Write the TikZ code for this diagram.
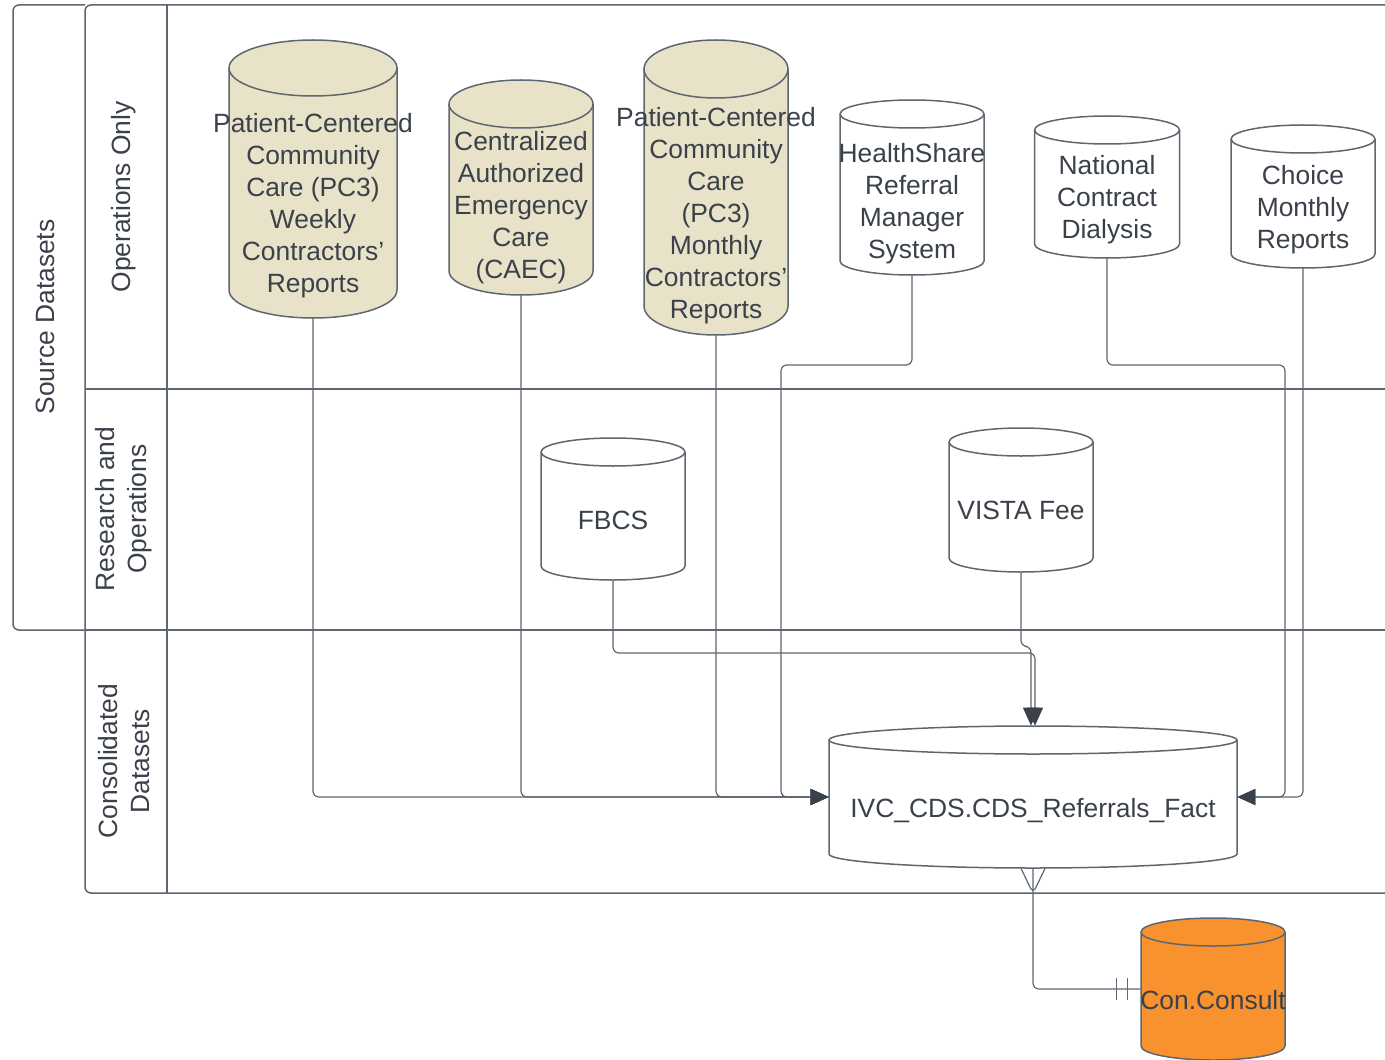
\documentclass[tikz,border=0pt]{standalone}
\usepackage{fontspec}
\setmainfont{Liberation Sans}
\usetikzlibrary{arrows.meta}

\definecolor{lanegray}{HTML}{5E6670}
\definecolor{txtgray}{HTML}{3A414A}
\definecolor{dbbeige}{HTML}{E8E2C8}
\definecolor{dborange}{HTML}{F8922E}

\tikzset{
    lane/.style={draw=lanegray, line width=0.75pt},
    cyl/.style={draw=lanegray, line width=0.75pt},
    link/.style={draw=lanegray, line width=0.6pt, rounded corners=3pt,
        -{Triangle[length=9pt,width=8pt,color=txtgray]}},
    plain/.style={draw=lanegray, line width=0.6pt, rounded corners=3pt},
    dbtext/.style={align=center, text=txtgray, inner sep=0pt,
        font=\fontsize{13.2}{16}\selectfont},
    lanetext/.style={dbtext, rotate=90}
}

% cylinder: name, centre x, top, width, bottom, cap radius, fill
\newcommand{\dbcyl}[7]{%
    \filldraw[cyl, fill=#7] (#2-#4/2, #3+#6) -- (#2-#4/2, #5-#6)
        arc[start angle=180, end angle=0, x radius=#4/2, y radius=#6]
        -- (#2+#4/2, #3+#6)
        arc[start angle=0, end angle=-180, x radius=#4/2, y radius=#6] -- cycle;
    \draw[cyl] (#2-#4/2, #3+#6)
        arc[start angle=180, end angle=0, x radius=#4/2, y radius=#6];
    \node[inner sep=0pt, minimum width=#4*0.5pt, minimum height=(#5-#3)*0.5pt]
        (#1) at (#2, {(#3+#5)/2}) {};
}

\begin{document}
\begin{tikzpicture}[x=0.5pt, y=-0.5pt]
            \useasboundingbox (0,0) rectangle (1385,1059);

            %Lanes
            \draw[lane, rounded corners=3pt] (85,630) -- (13,630) -- (13,5) -- (85,5);
            \draw[lane, rounded corners=3pt] (1385,893) -- (85,893) -- (85,5) -- (1385,5);
            \draw[lane] (167,5) -- (167,893);
            \draw[lane] (85,389) -- (1385,389);
            \draw[lane] (85,630) -- (1385,630);
            \node[lanetext] (srclbl) at (45,317) {Source Datasets};
            \node[lanetext] (opslbl) at (124,197) {Operations Only};
            \node[lanetext] (reslbl) at (124,509) {Research and\\Operations};
            \node[lanetext] (conslbl) at (124,761) {Consolidated\\Datasets};

            %Datasets
            \dbcyl{pcw}{313}{40}{168}{318}{28}{dbbeige}
            \dbcyl{caec}{521}{80}{144}{295}{24}{dbbeige}
            \dbcyl{pcm}{716}{40}{144}{335}{29}{dbbeige}
            \dbcyl{hs}{912}{100}{144}{275}{14}{white}
            \dbcyl{ncd}{1107}{116}{145}{258}{14}{white}
            \dbcyl{cmr}{1303}{125}{144}{268}{14}{white}
            \dbcyl{fbcs}{613}{438}{144}{580}{14}{white}
            \dbcyl{vista}{1021}{428}{144}{572}{14}{white}
            \dbcyl{ivc}{1033}{726}{408}{868}{14}{white}
            \dbcyl{con}{1213}{918}{144}{1060}{14}{dborange}

            \node[dbtext] (pcwlbl) at (313,206) {Patient-Centered\\Community\\Care (PC3)\\Weekly\\Contractors’\\Reports};
            \node[dbtext] (caeclbl) at (521,208) {Centralized\\Authorized\\Emergency\\Care\\(CAEC)};
            \node[dbtext] (pcmlbl) at (716,216) {Patient-Centered\\Community\\Care\\(PC3)\\Monthly\\Contractors’\\Reports};
            \node[dbtext] (hslbl) at (912,204) {HealthShare\\Referral\\Manager\\System};
            \node[dbtext] (ncdlbl) at (1107,200) {National\\Contract\\Dialysis};
            \node[dbtext] (cmrlbl) at (1303,210) {Choice\\Monthly\\Reports};
            \node[dbtext] (fbcslbl) at (613,520) {FBCS};
            \node[dbtext] (vistalbl) at (1021,510) {VISTA Fee};
            \node[dbtext] (ivclbl) at (1033,811) {IVC\_CDS.CDS\_Referrals\_Fact};
            \node[dbtext] (conlbl) at (1213,1000) {Con.Consult};

            %Lines
            \draw[link] (pcw.south) |- (ivc.west);
            \draw[link] (caec.south) |- (ivc.west);
            \draw[link] (pcm.south) |- (ivc.west);
            \draw[link] (hs.south) |- (781,365) |- (ivc.west);
            \draw[link] (ncd.south) |- (1285,365) |- (ivc.east);
            \draw[link] (cmr.south) |- (ivc.east);
            \draw[link] (fbcs.south) |- (1035,653) -- ([xshift=1pt]ivc.north);
            \draw[link] (vista.south) -- ++(0,74) -| ([xshift=-1pt]ivc.north);

            %Relation
            \draw[plain] (ivc.south) |- (con.west);
            \draw[plain] ([xshift=-6pt]ivc.south) -- ([yshift=-12.5pt]ivc.south) -- ([xshift=6pt]ivc.south);
            \draw[plain] ([xshift=-6pt,yshift=-12.5pt]ivc.south) -- ([xshift=6pt,yshift=-12.5pt]ivc.south);
            \draw[plain] ([xshift=-12pt,yshift=5.5pt]con.west) -- ([xshift=-12pt,yshift=-5.5pt]con.west);
            \draw[plain] ([xshift=-6.5pt,yshift=5.5pt]con.west) -- ([xshift=-6.5pt,yshift=-5.5pt]con.west);
\end{tikzpicture}
\end{document}
